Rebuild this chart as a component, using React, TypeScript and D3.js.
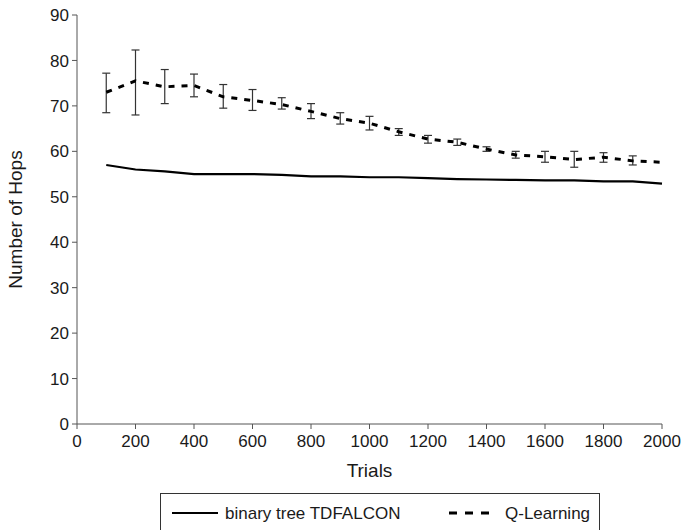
import React from "react";
import * as d3 from "d3";

const trials = [100, 200, 300, 400, 500, 600, 700, 800, 900, 1000, 1100, 1200, 1300, 1400, 1500, 1600, 1700, 1800, 1900, 2000];
const tdfalcon = [57, 56, 55.6, 55, 55, 55, 54.8, 54.5, 54.5, 54.3, 54.3, 54.1, 53.9, 53.8, 53.7, 53.6, 53.6, 53.4, 53.4, 52.9];
const qLearning = [73, 75.5, 74.2, 74.5, 72, 71.2, 70.3, 68.8, 67.2, 66.2, 64.3, 62.7, 62, 60.5, 59.2, 58.8, 58.2, 58.7, 57.9, 57.6];
const qLow = [68.5, 68, 70.5, 72, 69.5, 69, 69.3, 67.2, 66, 64.7, 63.5, 61.8, 61.3, 60, 58.5, 57.6, 56.5, 57.6, 57, 57.6];
const qHigh = [77.2, 82.3, 78, 77, 74.7, 73.6, 71.8, 70.5, 68.5, 67.7, 65, 63.5, 62.7, 61, 60, 60, 60, 59.7, 59, 57.6];
const xTicks = [0, 200, 400, 600, 800, 1000, 1200, 1400, 1600, 1800, 2000];
const yTicks = [0, 10, 20, 30, 40, 50, 60, 70, 80, 90];

export default function App() {
  const W = 688, H = 530;
  const x = d3.scaleLinear().domain([0, 2000]).range([77, 662]);
  const y = d3.scaleLinear().domain([0, 90]).range([424, 15]);
  const font = "'Liberation Sans', Arial, sans-serif";
  const line = d3.line<number>().x((_, i) => x(trials[i])).y((d) => y(d));
  const ink = "#1a1a1a";

  return (
    <svg width={W} height={H} style={{ position: "absolute", left: 0, top: 0, background: "#fff" }} fontFamily={font}>
      {/* axes */}
      <line x1={x(0)} x2={x(0)} y1={y(90)} y2={y(0)} stroke="#555" strokeWidth={1} />
      <line x1={x(0)} x2={x(2000)} y1={y(0)} y2={y(0)} stroke="#555" strokeWidth={1} />
      {yTicks.map((t) => (
        <g key={"y" + t}>
          <line x1={x(0) - 5} x2={x(0)} y1={y(t)} y2={y(t)} stroke="#555" />
          <text x={x(0) - 8} y={y(t)} dy="0.36em" textAnchor="end" fontSize={17} fill={ink}>{t}</text>
        </g>
      ))}
      {xTicks.map((t) => (
        <g key={"x" + t}>
          <line x1={x(t)} x2={x(t)} y1={y(0)} y2={y(0) + 5} stroke="#555" />
          <text x={x(t)} y={447} textAnchor="middle" fontSize={17} fill={ink}>{t}</text>
        </g>
      ))}
      <text x={(x(0) + x(2000)) / 2} y={477} textAnchor="middle" fontSize={19} fill={ink}>Trials</text>
      <text transform={`translate(22,${y(45)}) rotate(-90)`} textAnchor="middle" fontSize={19} fill={ink}>Number of Hops</text>

      {/* error bars */}
      {trials.map((t, i) =>
        qHigh[i] - qLow[i] > 0.3 ? (
          <g key={"e" + t} stroke="#333" strokeWidth={1.2}>
            <line x1={x(t)} x2={x(t)} y1={y(qLow[i])} y2={y(qHigh[i])} />
            <line x1={x(t) - 4} x2={x(t) + 4} y1={y(qLow[i])} y2={y(qLow[i])} />
            <line x1={x(t) - 4} x2={x(t) + 4} y1={y(qHigh[i])} y2={y(qHigh[i])} />
          </g>
        ) : null
      )}

      <path d={line(tdfalcon) || ""} fill="none" stroke="#000" strokeWidth={2.2} />
      <path d={line(qLearning) || ""} fill="none" stroke="#000" strokeWidth={3} strokeDasharray="6,7" />

      {/* legend */}
      <rect x={160.5} y={493.5} width={439} height={45} fill="#fff" stroke="#333" strokeWidth={1} />
      <line x1={172} x2={218} y1={513} y2={513} stroke="#000" strokeWidth={2.2} />
      <text x={225} y={513} dy="0.36em" fontSize={17} fill={ink}>binary tree TDFALCON</text>
      <line x1={449} x2={489} y1={513} y2={513} stroke="#000" strokeWidth={3} strokeDasharray="8,8" />
      <text x={505} y={513} dy="0.36em" fontSize={17} fill={ink}>Q-Learning</text>
    </svg>
  );
}
